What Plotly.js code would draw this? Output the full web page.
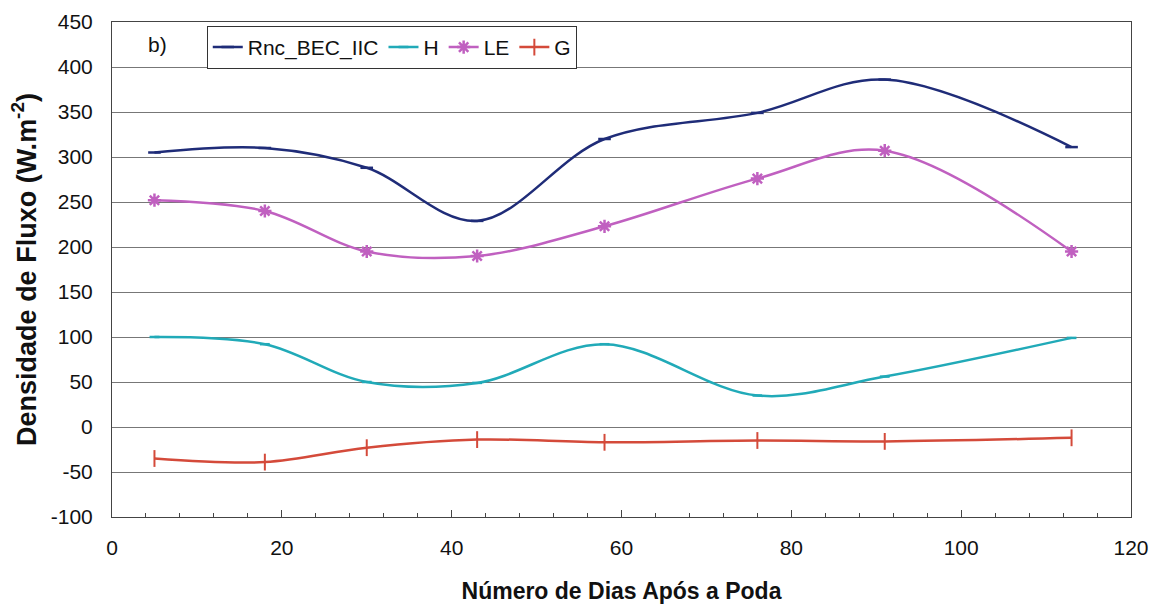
<!DOCTYPE html>
<html>
<head>
<meta charset="utf-8">
<script src="https://cdn.plot.ly/plotly-3.0.1.min.js"></script>
<style>html,body{margin:0;padding:0;background:#fff;}#chart{width:1151px;height:611px;}</style>
</head>
<body>
<div id="chart"></div>
<script>
const days = [5, 18, 30, 43, 58, 76, 91, 113];
const seriesNames = ["Rnc_BEC_IIC", "H", "LE", "G"];
const rnc = [305, 310, 288, 229, 320, 349, 386, 311];
const H = [100, 92, 50, 49, 92, 35, 56, 99];
const LE = [252, 240, 195, 190, 223, 276, 307, 195];
const G = [-35, -39, -23, -14, -17, -15, -16, -12];
const yTickVals = [-100, -50, 0, 50, 100, 150, 200, 250, 300, 350, 400, 450];
const yTickText = ["-100", "-50", "0", "50", "100", "150", "200", "250", "300", "350", "400", "450"];
const xTitle = "Número de Dias Após a Poda";
const yTitle = "Densidade de Fluxo (W.m<sup>-2</sup>)";
const panelLabel = "b)";

const colors = ["#1f2c78", "#21aab8", "#c060c0", "#d44a3a"];
const font = "Liberation Sans, Arial, sans-serif";

function tr(name, y, color, symbol, msize, mlw) {
  return {
    x: days, y: y, name: name, type: "scatter", mode: "lines+markers",
    line: {color: color, width: 2.5, shape: "spline", smoothing: 1},
    marker: {symbol: symbol, size: msize, color: color, line: {color: color, width: mlw}}
  };
}

const data = [
  tr(seriesNames[0], rnc, colors[0], "line-ew", 9, 2.5),
  tr(seriesNames[1], H, colors[1], "line-ew", 7, 2.5),
  tr(seriesNames[2], LE, colors[2], "asterisk", 11, 2.5),
  tr(seriesNames[3], G, colors[3], "line-ns", 12, 2)
];

const layout = {
  width: 1151, height: 611,
  margin: {l: 112, r: 20, t: 22, b: 94},
  paper_bgcolor: "#fff", plot_bgcolor: "#fff",
  font: {family: font, size: 21, color: "#111"},
  showlegend: true,
  legend: {
    orientation: "h", x: 0.093, y: 0.992, xanchor: "left", yanchor: "top",
    bgcolor: "#fff", bordercolor: "#333", borderwidth: 1,
    font: {family: font, size: 21, color: "#111"},
    itemwidth: 30, tracegroupgap: 0
  },
  xaxis: {
    range: [0, 120], dtick: 20, tick0: 0,
    showgrid: false, zeroline: false,
    showline: true, linecolor: "#444", linewidth: 1, mirror: true,
    ticks: "inside", ticklen: 7, tickcolor: "#444",
    minor: {dtick: 4, ticks: "inside", ticklen: 4, tickcolor: "#444", showgrid: false},
    ticklabelstandoff: 12,
    tickfont: {family: font, size: 21, color: "#111"},
    title: {text: xTitle, font: {family: font, size: 23, color: "#111", weight: "bold"}, standoff: 24}
  },
  yaxis: {
    range: [-100, 450], tickmode: "array", tickvals: yTickVals, ticktext: yTickText,
    showgrid: true, gridcolor: "#777", gridwidth: 1,
    zeroline: false,
    showline: true, linecolor: "#444", linewidth: 1, mirror: true,
    ticks: "", ticklabelstandoff: 14,
    tickfont: {family: font, size: 21, color: "#111"},
    title: {text: yTitle, font: {family: font, size: 27, color: "#111", weight: "bold"}, standoff: 6}
  },
  annotations: [{
    text: panelLabel, xref: "paper", yref: "paper", x: 0.045, y: 0.955,
    xanchor: "center", yanchor: "middle", showarrow: false,
    font: {family: font, size: 21, color: "#111"}
  }]
};

Plotly.newPlot("chart", data, layout, {displayModeBar: false, staticPlot: true});
</script>
</body>
</html>
